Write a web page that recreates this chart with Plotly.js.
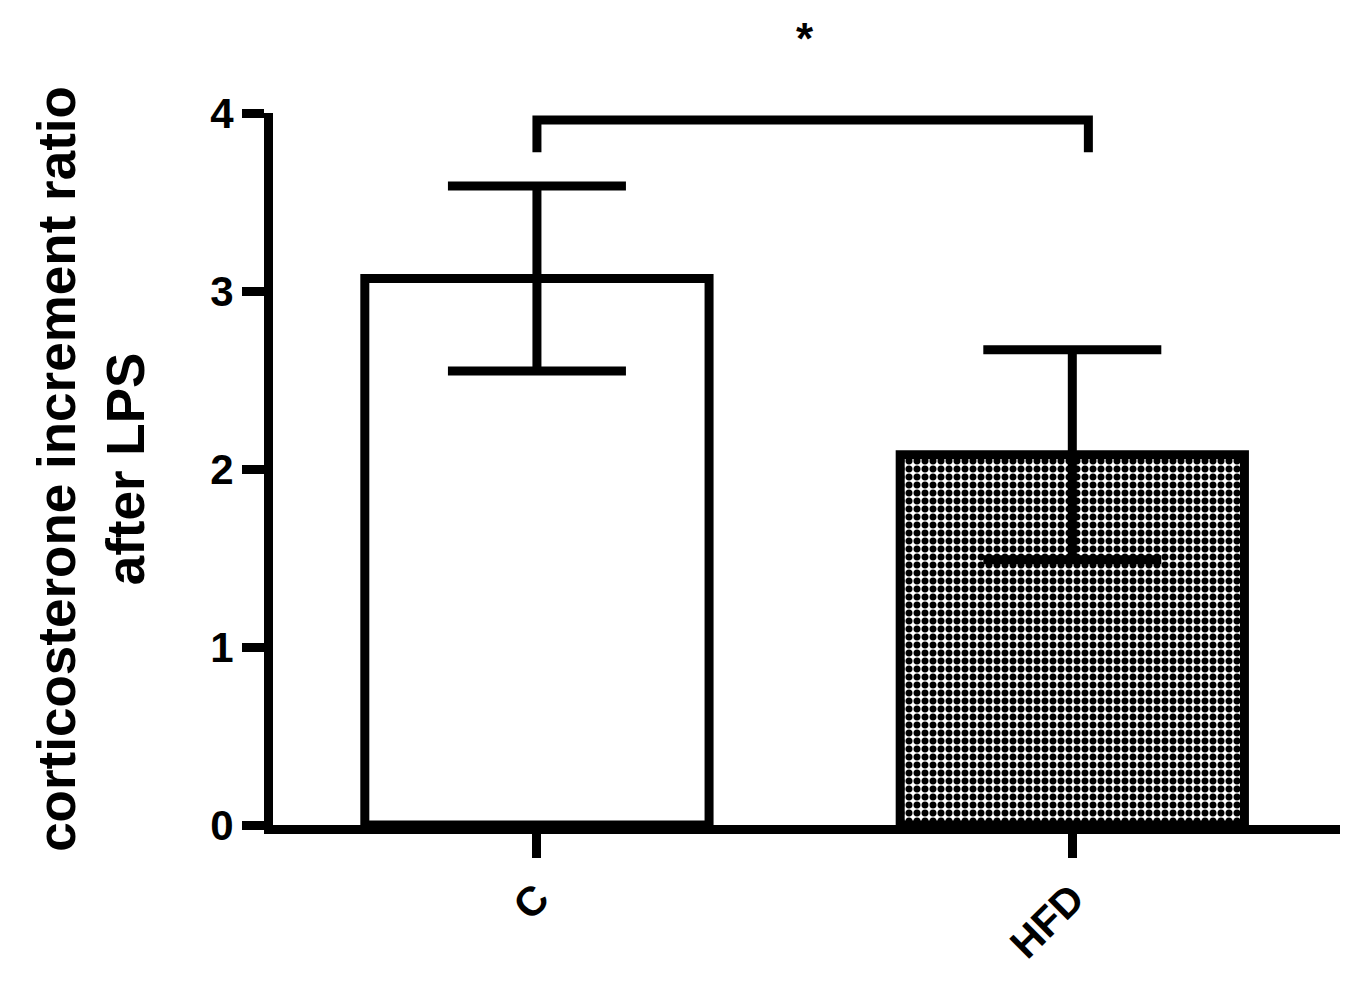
<!DOCTYPE html>
<html>
<head>
<meta charset="utf-8">
<script src="https://cdn.plot.ly/plotly-3.0.1.min.js"></script>
<style>
  html, body { margin: 0; padding: 0; background: #fff; }
  #plot { width: 1368px; height: 1002px; }
</style>
</head>
<body>
<div id="plot"></div>
<script>
// groups and values
var groups = ["C", "HFD"];
var means = [3.07, 2.08];
var errors = [0.52, 0.59];
var fillPatterns = ["", "."];

// significance bracket between the two groups
var bracketTop = 3.96;
var bracketFoot = 3.78;
var bracketRight = 1.03;
var starLabel = "*";

var bars = {
  x: [0, 1],
  y: means,
  type: "bar",
  width: 0.643,
  marker: {
    color: "white",
    line: { color: "black", width: 9 },
    pattern: {
      shape: fillPatterns,
      fgcolor: "black",
      bgcolor: "white",
      size: 8,
      solidity: 0.6
    }
  },
  error_y: {
    type: "data",
    array: errors,
    visible: true,
    color: "black",
    thickness: 9,
    width: 89
  },
  hoverinfo: "skip"
};

var layout = {
  width: 1368,
  height: 1002,
  paper_bgcolor: "white",
  plot_bgcolor: "white",
  showlegend: false,
  margin: { l: 273, r: 28, t: 113, b: 177 },
  font: { family: "Liberation Sans, Arial, sans-serif", color: "black" },
  xaxis: {
    range: [-0.493, 1.5],
    tickvals: [0, 1],
    ticktext: groups,
    tickangle: -45,
    showline: true,
    linecolor: "black",
    linewidth: 9,
    ticks: "outside",
    ticklen: 24,
    tickwidth: 9,
    tickcolor: "black",
    tickfont: { size: 41, family: "Liberation Sans, Arial, sans-serif", weight: "bold" },
    showgrid: false,
    zeroline: false,
    fixedrange: true
  },
  yaxis: {
    range: [0, 4],
    tickvals: [0, 1, 2, 3, 4],
    showline: true,
    linecolor: "black",
    linewidth: 9,
    ticks: "outside",
    ticklen: 22,
    tickwidth: 9,
    tickcolor: "black",
    tickfont: { size: 42, family: "Liberation Sans, Arial, sans-serif", weight: "bold" },
    showgrid: false,
    zeroline: false,
    fixedrange: true,
    title: {
      text: "corticosterone increment ratio<br>after LPS",
      font: { size: 53, family: "Liberation Sans, Arial, sans-serif", weight: "bold" },
      standoff: 52
    }
  },
  shapes: [
    {
      type: "path",
      xref: "x",
      yref: "y",
      path: "M 0," + bracketFoot + " L 0," + bracketTop + " L " + bracketRight + "," + bracketTop + " L " + bracketRight + "," + bracketFoot,
      line: { color: "black", width: 9 }
    }
  ],
  annotations: [
    {
      x: 0.5,
      y: 1.104,
      xref: "x",
      yref: "paper",
      text: starLabel,
      showarrow: false,
      xanchor: "center",
      yanchor: "middle",
      font: { size: 44, family: "Liberation Sans, Arial, sans-serif", weight: "bold" }
    }
  ]
};

Plotly.newPlot("plot", [bars], layout, { displayModeBar: false, staticPlot: true });
</script>
</body>
</html>
